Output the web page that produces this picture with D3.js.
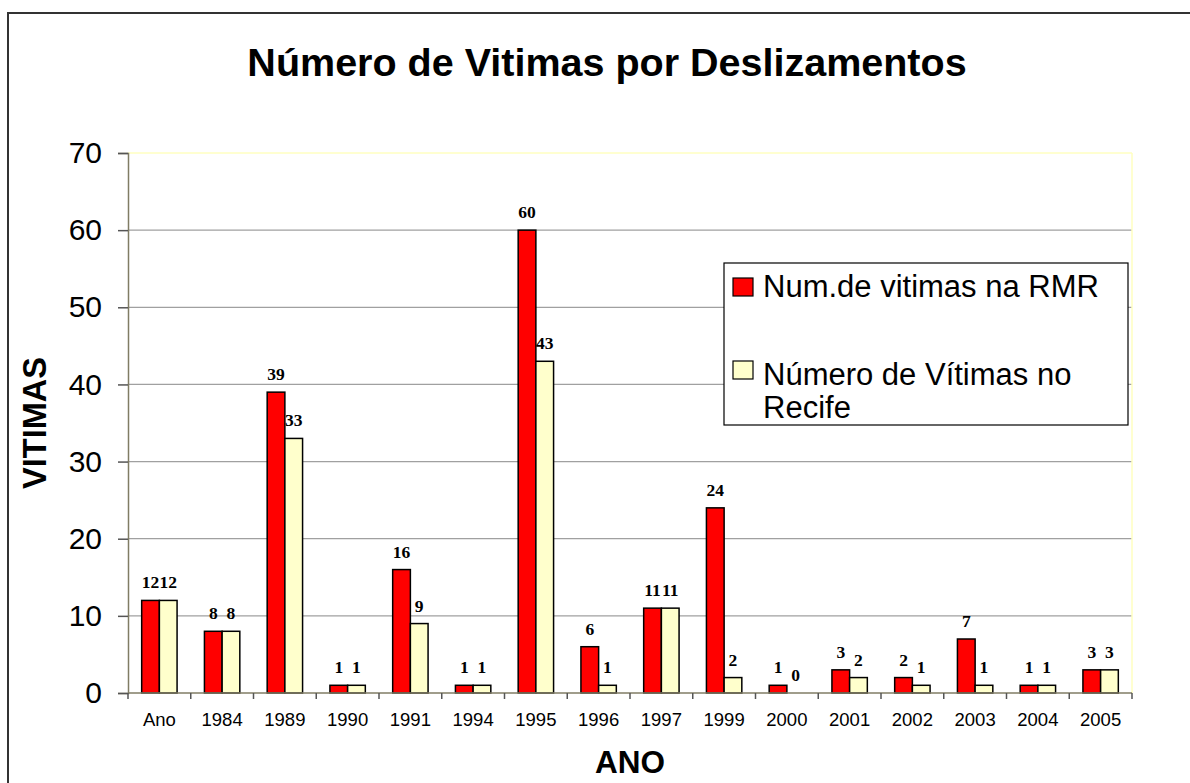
<!DOCTYPE html>
<html>
<head>
<meta charset="utf-8">
<script src="https://cdn.jsdelivr.net/npm/d3@7/dist/d3.min.js"></script>
<style>
html,body{margin:0;padding:0;background:#fff;}
svg{display:block;}
</style>
</head>
<body>
<svg id="chart" width="1190" height="783"></svg>
<script>
const categories = ["Ano","1984","1989","1990","1991","1994","1995","1996","1997","1999","2000","2001","2002","2003","2004","2005"];
const rmrValues = [12,8,39,1,16,1,60,6,11,24,1,3,2,7,1,3];
const recifeValues = [12,8,33,1,9,1,43,1,11,2,0,2,1,1,1,3];
const seriesNames = ["Num.de vitimas na RMR","Número de Vítimas no Recife"];
const yTicks = [0,10,20,30,40,50,60,70];
const titleText = "Número de Vitimas por Deslizamentos";
const xTitle = "ANO";
const yTitle = "VITIMAS";

(function(){
const svg = d3.select("#chart");
const sans = "'Liberation Sans', Arial, sans-serif";
const serif = "'Liberation Serif', 'Times New Roman', serif";
const colors = ["#ff0000", "#ffffcc"];

const pLeft = 128, pRight = 1132, pTop = 153, pBottom = 693;

// outer border
svg.append("rect").attr("x", 8).attr("y", 13).attr("width", 1200).attr("height", 800)
  .attr("fill", "#fff").attr("stroke", "#333").attr("stroke-width", 2);

const x = d3.scaleBand().domain(categories).range([pLeft, pRight]).paddingInner(0.436).paddingOuter(0.218);
const sub = d3.scaleBand().domain([0,1]).range([0, x.bandwidth()]);
const y = d3.scaleLinear().domain([0, 70]).range([pBottom, pTop]);

// grid lines
svg.append("g").selectAll("line").data(yTicks.filter(t => t > 0 && t < 70)).join("line")
  .attr("x1", pLeft).attr("x2", pRight).attr("y1", d => y(d)).attr("y2", d => y(d))
  .attr("stroke", "#a0a0a0").attr("stroke-width", 1.2);
// plot border top/right (light yellow)
svg.append("line").attr("x1", pLeft).attr("x2", pRight).attr("y1", y(70)).attr("y2", y(70))
  .attr("stroke", "#ffffc0").attr("stroke-width", 1.5);
svg.append("line").attr("x1", pRight).attr("x2", pRight).attr("y1", y(70)).attr("y2", pBottom)
  .attr("stroke", "#ffffc0").attr("stroke-width", 1.5);

// bars
const data = categories.map((c, i) => ({cat: c, vals: [rmrValues[i], recifeValues[i]]}));
const groups = svg.append("g").selectAll("g").data(data).join("g")
  .attr("transform", d => `translate(${x(d.cat)},0)`);
groups.selectAll("rect").data(d => d.vals.map((v, k) => ({v, k}))).join("rect")
  .attr("x", d => sub(d.k)).attr("width", sub.bandwidth())
  .attr("y", d => y(d.v)).attr("height", d => pBottom - y(d.v))
  .attr("fill", d => colors[d.k]).attr("stroke", "#000").attr("stroke-width", 1.5)
  .attr("display", d => d.v === 0 ? "none" : null);
groups.selectAll("text").data(d => d.vals.map((v, k) => ({v, k}))).join("text")
  .attr("x", d => sub(d.k) + sub.bandwidth() / 2)
  .attr("y", d => y(d.v) - 12)
  .attr("text-anchor", "middle")
  .attr("font-family", serif).attr("font-weight", "bold").attr("font-size", 17.5)
  .text(d => d.v);

// y axis
const axisColor = "#807c64";
const yAxis = d3.axisLeft(y).tickValues(yTicks).tickSize(10).tickPadding(16);
const gy = svg.append("g").attr("transform", `translate(${pLeft},0)`).call(yAxis);
gy.select(".domain").attr("stroke", axisColor).attr("stroke-width", 1.5);
gy.selectAll(".tick line").attr("stroke", "#555").attr("stroke-width", 1.5);
gy.selectAll(".tick text").attr("font-family", sans).attr("font-size", 30).attr("fill", "#000");

// x axis
const step = x.step();
const boundaries = d3.range(categories.length + 1).map(i => pLeft + i * step);
svg.append("line").attr("x1", pLeft).attr("x2", pRight).attr("y1", pBottom).attr("y2", pBottom)
  .attr("stroke", axisColor).attr("stroke-width", 1.5);
svg.append("g").selectAll("line").data(boundaries).join("line")
  .attr("x1", d => d).attr("x2", d => d).attr("y1", pBottom).attr("y2", pBottom + 6)
  .attr("stroke", "#555").attr("stroke-width", 1.5);
svg.append("g").selectAll("text").data(categories).join("text")
  .attr("x", d => x(d) + x.bandwidth() / 2).attr("y", 726)
  .attr("text-anchor", "middle").attr("font-family", sans).attr("font-size", 18.5)
  .text(d => d);

// titles
svg.append("text").attr("x", 607).attr("y", 76).attr("text-anchor", "middle")
  .attr("font-family", sans).attr("font-weight", "bold").attr("font-size", 39.5).text(titleText);
svg.append("text").attr("x", (pLeft + pRight) / 2).attr("y", 773).attr("text-anchor", "middle")
  .attr("font-family", sans).attr("font-weight", "bold").attr("font-size", 31.5).text(xTitle);
svg.append("text").attr("transform", `translate(46,${(pTop + pBottom) / 2}) rotate(-90)`)
  .attr("text-anchor", "middle")
  .attr("font-family", sans).attr("font-weight", "bold").attr("font-size", 32.5).text(yTitle);

// legend
const lg = svg.append("g");
lg.append("rect").attr("x", 724).attr("y", 263).attr("width", 404).attr("height", 162)
  .attr("fill", "#fff").attr("stroke", "#000").attr("stroke-width", 1.2);
const legendItems = [
  {lines: [seriesNames[0]], sy: 278, by: 297},
  {lines: ["Número de Vítimas no", "Recife"], sy: 361, by: 385}
];
legendItems.forEach((it, k) => {
  lg.append("rect").attr("x", 733).attr("y", it.sy).attr("width", 20).attr("height", 18)
    .attr("fill", colors[k]).attr("stroke", "#000").attr("stroke-width", 1.2);
  const t = lg.append("text").attr("x", 763).attr("y", it.by)
    .attr("font-family", sans).attr("font-size", 31);
  it.lines.forEach((ln, j) => {
    t.append("tspan").attr("x", 763).attr("y", it.by + j * 32.5).text(ln);
  });
});
})();
</script>
</body>
</html>
